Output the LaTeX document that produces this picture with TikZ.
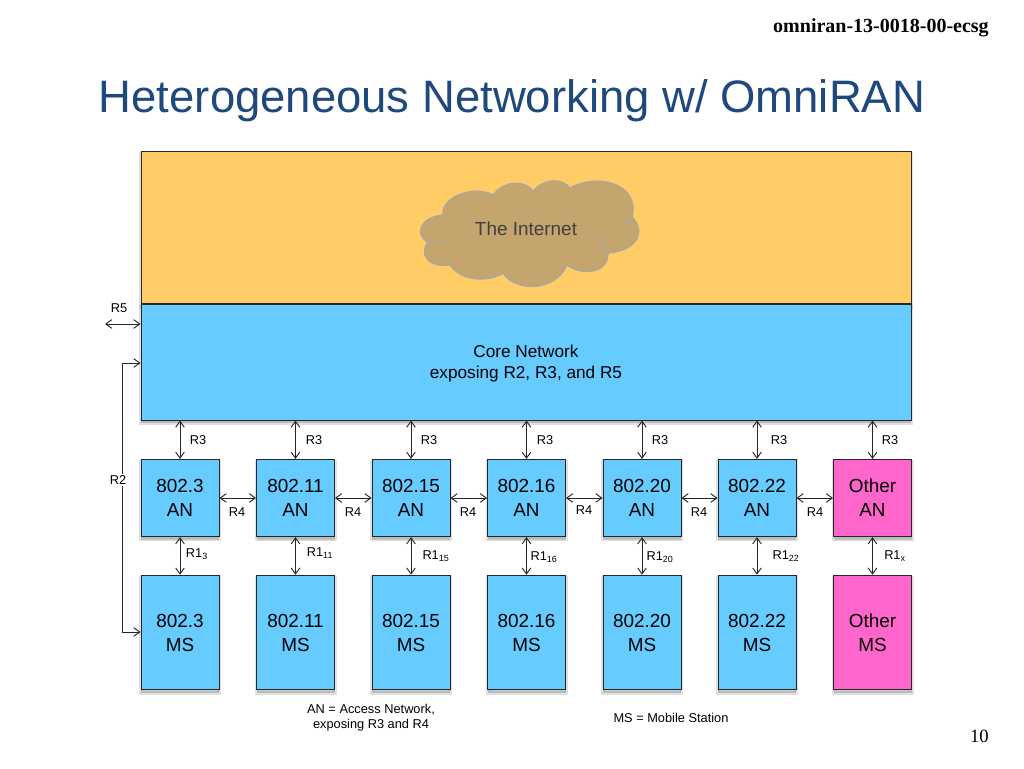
\documentclass[tikz,border=0pt]{standalone}
\usepackage{fontspec}
\setmainfont{Liberation Sans}
\newfontfamily\serifhead{Liberation Serif}
\usetikzlibrary{shadows,arrows.meta}
\definecolor{coreblue}{HTML}{66CCFF}
\definecolor{topyellow}{HTML}{FFCC66}
\definecolor{otherpink}{HTML}{FF66CC}
\definecolor{cloudtan}{HTML}{C4A56E}
\definecolor{cloudline}{HTML}{A9A79F}
\definecolor{titleblue}{HTML}{1F497D}
\tikzset{
  panel/.style={draw=black!85, line width=0.7pt, inner sep=0pt, align=center,
    drop shadow={shadow xshift=0pt, shadow yshift=-2pt, opacity=0.12, draw=black, line width=3pt},
    drop shadow={shadow xshift=0pt, shadow yshift=-2.5pt, opacity=0.3}},
  anbox/.style={panel, fill=coreblue, minimum width=58.5pt, minimum height=58pt, font=\fontsize{14.2}{18}\selectfont},
  msbox/.style={panel, fill=coreblue, minimum width=58.5pt, minimum height=86pt, font=\fontsize{14.2}{18}\selectfont},
  otherbox/.style={fill=otherpink},
  tag/.style={inner sep=0pt, font=\fontsize{9.6}{11.5}\selectfont},
  link/.style={{Straight Barb[length=4.5pt,width=6.5pt]}-{Straight Barb[length=4.5pt,width=6.5pt]}, line width=0.7pt, black!85},
}
\begin{document}
\begin{tikzpicture}[x=0.75pt, y=-0.75pt]
  \useasboundingbox (0,0) rectangle (1024,768);

  \node[anchor=east, inner sep=0pt, font=\serifhead\bfseries\fontsize{15}{17}\selectfont] (header) at (989,28) {omniran-13-0018-00-ecsg};
  \node[text=titleblue, font=\fontsize{34.1}{41}\selectfont] (title) at (512,101) {Heterogeneous Networking w/ OmniRAN};
  \node[anchor=east, inner sep=0pt, font=\serifhead\fontsize{14}{16}\selectfont] (page) at (989,736) {10};

  \node[panel, fill=topyellow, minimum width=577.5pt, minimum height=114.5pt] (top) at (526,227.5) {};
  \node[panel, fill=coreblue, minimum width=577.5pt, minimum height=87pt] (core) at (526,362) {};
  \node[align=center, inner sep=0pt, font=\fontsize{12.9}{15.75}\selectfont] (coretext) at (526,364) {Core Network\\exposing R2, R3, and R5};

  % cloud
  \draw[fill=cloudtan, draw=cloudline, line width=1pt]
    (443,215) .. controls (441,196) and (475,185) .. (493,195)
    .. controls (505,180) and (525,180) .. (533,191)
    .. controls (545,178) and (562,178) .. (570,188)
    .. controls (600,172) and (640,185) .. (632,217)
    .. controls (645,230) and (640,250) .. (608,253)
    .. controls (608,275) and (580,275) .. (567,265)
    .. controls (555,292) and (515,292) .. (503,273)
    .. controls (490,282) and (462,282) .. (450,265)
    .. controls (425,268) and (420,252) .. (428,242)
    .. controls (414,235) and (420,217) .. (443,215) -- cycle;
  \draw[draw=cloudline, line width=1pt] (428,242) .. controls (433,241) and (440,241) .. (445,243);
  \draw[draw=cloudline, line width=1pt] (593,236) .. controls (600,238) and (606,245) .. (608,253);
  \draw[draw=cloudline, line width=1pt] (624,224) .. controls (627,222) and (630,219) .. (632,217);
  \node[text=black!75, font=\fontsize{14.2}{17}\selectfont] (internet) at (526,229) {The Internet};

  \node[anbox] (an3) at (180,498) {802.3\\AN};
  \node[anbox] (an11) at (295.5,498) {802.11\\AN};
  \node[anbox] (an15) at (411,498) {802.15\\AN};
  \node[anbox] (an16) at (526.5,498) {802.16\\AN};
  \node[anbox] (an20) at (642,498) {802.20\\AN};
  \node[anbox] (an22) at (757,498) {802.22\\AN};
  \node[anbox, otherbox] (anx) at (872.5,498) {Other\\AN};

  \node[msbox] (ms3) at (180,632.5) {802.3\\MS};
  \node[msbox] (ms11) at (295.5,632.5) {802.11\\MS};
  \node[msbox] (ms15) at (411,632.5) {802.15\\MS};
  \node[msbox] (ms16) at (526.5,632.5) {802.16\\MS};
  \node[msbox] (ms20) at (642,632.5) {802.20\\MS};
  \node[msbox] (ms22) at (757,632.5) {802.22\\MS};
  \node[msbox, otherbox] (msx) at (872.5,632.5) {Other\\MS};

  % R3
  \draw[link] (core.south -| an3) -- (an3);
  \draw[link] (core.south -| an11) -- (an11);
  \draw[link] (core.south -| an15) -- (an15);
  \draw[link] (core.south -| an16) -- (an16);
  \draw[link] (core.south -| an20) -- (an20);
  \draw[link] (core.south -| an22) -- (an22);
  \draw[link] (core.south -| anx) -- (anx);
  \node[tag] (r3a) at (198,440) {R3};
  \node[tag] (r3b) at (314,440) {R3};
  \node[tag] (r3c) at (429,440) {R3};
  \node[tag] (r3d) at (545,440) {R3};
  \node[tag] (r3e) at (660,440) {R3};
  \node[tag] (r3f) at (779,440) {R3};
  \node[tag] (r3g) at (890,440) {R3};

  % R4
  \draw[link] (an3) -- (an11);
  \draw[link] (an11) -- (an15);
  \draw[link] (an15) -- (an16);
  \draw[link] (an16) -- (an20);
  \draw[link] (an20) -- (an22);
  \draw[link] (an22) -- (anx);
  \node[tag] (r4a) at (237,512) {R4};
  \node[tag] (r4b) at (353,512) {R4};
  \node[tag] (r4c) at (468,512) {R4};
  \node[tag] (r4d) at (584,510) {R4};
  \node[tag] (r4e) at (699,512) {R4};
  \node[tag] (r4f) at (815,512) {R4};

  % R1
  \draw[link] (an3) -- (ms3);
  \draw[link] (an11) -- (ms11);
  \draw[link] (an15) -- (ms15);
  \draw[link] (an16) -- (ms16);
  \draw[link] (an20) -- (ms20);
  \draw[link] (an22) -- (ms22);
  \draw[link] (anx) -- (msx);
  \node[tag] (r1a) at (197,554) {R1\textsubscript{3}};
  \node[tag] (r1b) at (320,553) {R1\textsubscript{11}};
  \node[tag] (r1c) at (436,556) {R1\textsubscript{15}};
  \node[tag] (r1d) at (544,557) {R1\textsubscript{16}};
  \node[tag] (r1e) at (660,557) {R1\textsubscript{20}};
  \node[tag] (r1f) at (786,556) {R1\textsubscript{22}};
  \node[tag] (r1g) at (895,556) {R1\textsubscript{x}};

  % R5 and R2
  \coordinate (r5end) at (105,324);
  \coordinate (r2top) at (122,363);
  \coordinate (r2bot) at (122,632);
  \draw[link] (r5end) -- (core.west |- r5end);
  \draw[link] (core.west |- r2top) -- (r2top) -- (r2bot) -- (ms3.west |- r2bot);
  \node[tag] (r5) at (119,308) {R5};
  \node[tag, fill=white, inner ysep=1pt] (r2) at (118,480) {R2};

  \node[tag, align=center] (annote) at (371,718) {AN = Access Network,\\exposing R3 and R4};
  \node[tag] (msnote) at (671,718) {MS = Mobile Station};
\end{tikzpicture}
\end{document}
